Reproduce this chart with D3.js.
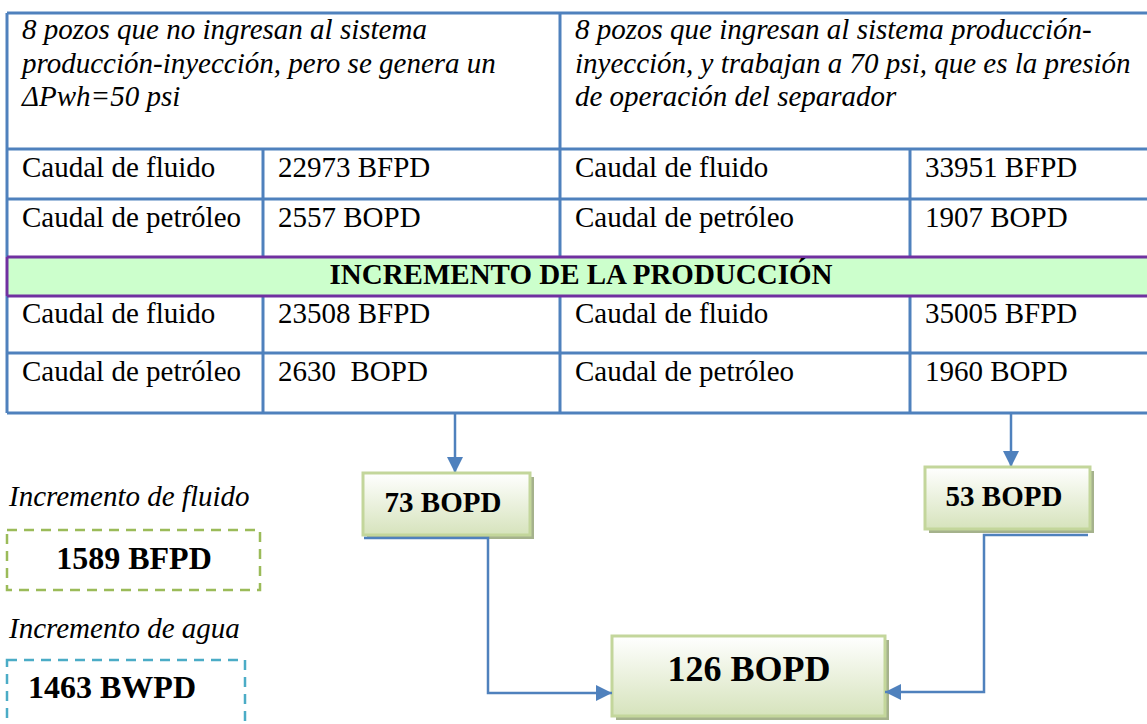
<!DOCTYPE html>
<html><head><meta charset="utf-8">
<script src="https://cdn.jsdelivr.net/npm/d3@7"></script>
<style>body{margin:0;background:#fff}svg text{white-space:pre}</style>
</head><body><svg id="c" width="1147" height="724"></svg>
<script>
// ---- data ----
const headerLeft = ["8 pozos que no ingresan al sistema", "producción-inyección, pero se genera un", "ΔPwh=50 psi"];
const headerRight = ["8 pozos que ingresan al sistema producción-", "inyección, y trabajan a 70 psi, que es la presión", "de operación del separador"];
const rowLabels = ["Caudal de fluido", "Caudal de petróleo"];
const units = ["BFPD", "BOPD"];
const leftBefore = [22973, 2557];
const rightBefore = [33951, 1907];
const leftAfter = [23508, 2630];
const rightAfter = [35005, 1960];
const bandTitle = "INCREMENTO DE LA PRODUCCIÓN";
const oilIncrements = [73, 53];
const oilTotal = 126;
const sideLabels = ["Incremento de fluido", "Incremento de agua"];
const sideValues = ["1589 BFPD", "1463 BWPD"];

// ---- layout ----
const svg = d3.select("#c");
const BLUE = "#4F81BD";
const colX = d3.scaleOrdinal().domain([0,1,2,3,4]).range([7, 263, 560, 910, 1158]);
const rowY = d3.scaleOrdinal().domain([0,1,2,3,4,5,6]).range([13, 149, 199, 257, 296, 353, 413]);
const serif = "'Liberation Serif','Times New Roman',serif";

function txt(x, y, s, opt = {}) {
  return svg.append("text")
    .attr("x", x).attr("y", y)
    .attr("font-family", serif)
    .attr("font-size", opt.size || 29)
    .attr("font-style", opt.italic ? "italic" : "normal")
    .attr("font-weight", opt.bold ? "bold" : "normal")
    .attr("text-anchor", opt.anchor || "start")
    .attr("fill", "#000").text(s);
}

// band fill
svg.append("rect").attr("x", colX(0)).attr("y", rowY(3)).attr("width", colX(4) - colX(0)).attr("height", rowY(4) - rowY(3)).attr("fill", "#CCFFCC");

const grid = svg.append("g").attr("stroke", BLUE).attr("stroke-width", 3).attr("fill", "none");
[0,1,2,5,6].forEach(r => grid.append("line").attr("x1", colX(0)).attr("x2", colX(4)).attr("y1", rowY(r)).attr("y2", rowY(r)));
const vseg = (c, r0, r1) => grid.append("line").attr("x1", colX(c)).attr("x2", colX(c)).attr("y1", rowY(r0)).attr("y2", rowY(r1));
vseg(0, 0, 3); vseg(0, 4, 6);
vseg(2, 0, 3); vseg(2, 4, 6);
vseg(1, 1, 3); vseg(1, 4, 6);
vseg(3, 1, 3); vseg(3, 4, 6);
const pur = svg.append("g").attr("stroke", "#7030A0").attr("stroke-width", 3);
pur.append("line").attr("x1", colX(0)).attr("x2", colX(4)).attr("y1", rowY(3)).attr("y2", rowY(3));
pur.append("line").attr("x1", colX(0)).attr("x2", colX(4)).attr("y1", rowY(4)).attr("y2", rowY(4));
pur.append("line").attr("x1", colX(0)).attr("x2", colX(0)).attr("y1", rowY(3)).attr("y2", rowY(4));

// header texts
headerLeft.forEach((s, i) => txt(colX(0) + 15, 39 + i * 33.5, s, {italic: true}));
headerRight.forEach((s, i) => txt(colX(2) + 15, 39 + i * 33.5, s, {italic: true}));

// rows
const beforeBase = [177, 227], afterBase = [323, 381];
rowLabels.forEach((lab, i) => {
  txt(colX(0) + 15, beforeBase[i], lab);
  txt(colX(1) + 15, beforeBase[i], leftBefore[i] + " " + units[i]);
  txt(colX(2) + 15, beforeBase[i], lab);
  txt(colX(3) + 15, beforeBase[i], rightBefore[i] + " " + units[i]);
  txt(colX(0) + 15, afterBase[i], lab);
  txt(colX(1) + 15, afterBase[i], leftAfter[i] + (i === 1 ? "  " : " ") + units[i]);
  txt(colX(2) + 15, afterBase[i], lab);
  txt(colX(3) + 15, afterBase[i], rightAfter[i] + " " + units[i]);
});
txt(581, 284, bandTitle, {bold: true, anchor: "middle"});

// defs
const defs = svg.append("defs");
defs.append("marker").attr("id", "ah").attr("viewBox", "0 0 10 10").attr("refX", 10).attr("refY", 5)
  .attr("markerWidth", 6.5).attr("markerHeight", 6.5).attr("markerUnits", "strokeWidth").attr("orient", "auto")
  .append("path").attr("d", "M0,0L10,5L0,10Z").attr("fill", BLUE);
const grad = defs.append("linearGradient").attr("id", "gb").attr("x1", 0).attr("y1", 0).attr("x2", 0).attr("y2", 1);
grad.append("stop").attr("offset", "0%").attr("stop-color", "#FFFFFF");
grad.append("stop").attr("offset", "100%").attr("stop-color", "#D6E3BC");

const line = d3.line();
function conn(pts, arrow) {
  svg.append("path").attr("d", line(pts)).attr("fill", "none").attr("stroke", BLUE).attr("stroke-width", 2.5)
    .attr("marker-end", arrow ? "url(#ah)" : null);
}
function box(x0, y0, x1, y1) {
  svg.append("rect").attr("x", x0 + 4).attr("y", y0 + 4).attr("width", x1 - x0).attr("height", y1 - y0).attr("fill", "#A5B28C");
  svg.append("rect").attr("x", x0).attr("y", y0).attr("width", x1 - x0).attr("height", y1 - y0)
    .attr("fill", "url(#gb)").attr("stroke", "#C3D69B").attr("stroke-width", 3);
}

// boxes & connectors
const boxes = [[363, 473, 530, 535], [925, 467, 1090, 529]];
const dropX = [455, 1011];
const boxText = [[443, 512], [1004, 506]];
boxes.forEach((b, i) => {
  conn([[dropX[i], rowY(6)], [dropX[i], b[1]]], true);
  box(...b);
  txt(boxText[i][0], boxText[i][1], oilIncrements[i] + " BOPD", {bold: true, anchor: "middle"});
});
box(612, 636, 885, 716);
txt(749, 681, oilTotal + " BOPD", {bold: true, size: 36, anchor: "middle"});
conn([[364, 538], [488, 538], [488, 693], [612, 693]], true);
conn([[1088, 535], [984, 535], [984, 692], [885, 692]], true);

// side notes
const sideBase = [506, 638];
const dashBoxes = [[7, 530, 260, 590, "#9BBB59"], [7, 660, 245, 740, "#4BACC6"]];
const sideValX = [134, 112], sideValY = [569, 698];
sideLabels.forEach((s, i) => {
  txt(9, sideBase[i], s, {italic: true});
  const d = dashBoxes[i];
  svg.append("rect").attr("x", d[0]).attr("y", d[1]).attr("width", d[2] - d[0]).attr("height", d[3] - d[1])
    .attr("fill", "none").attr("stroke", d[4]).attr("stroke-width", 2.5).attr("stroke-dasharray", "10,7");
  txt(sideValX[i], sideValY[i], sideValues[i], {bold: true, size: 32, anchor: "middle"});
});
</script></body></html>
